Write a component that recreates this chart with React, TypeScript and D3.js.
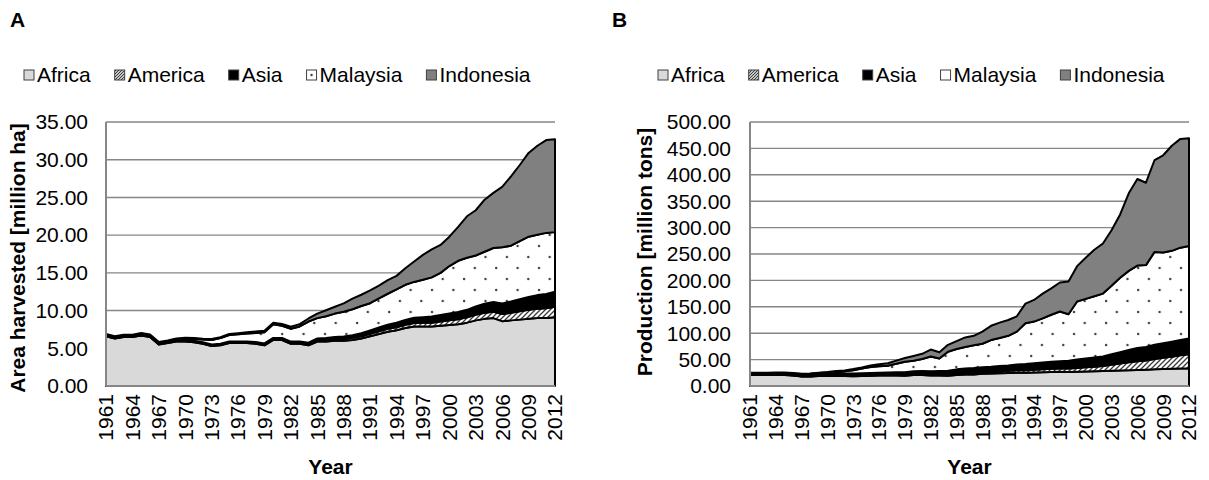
import React from 'react';
import * as d3 from 'd3';

// Years 1961–2012, one value per year for every region
const YEARS = d3.range(1961, 2013);
const TICK_YEARS = [1961, 1964, 1967, 1970, 1973, 1976, 1979, 1982, 1985, 1988, 1991, 1994, 1997, 2000, 2003, 2006, 2009, 2012];
const REGIONS = ['Africa', 'America', 'Asia', 'Malaysia', 'Indonesia'];

// Area harvested [million ha]
const areaAfrica = [6.6, 6.3, 6.5, 6.5, 6.7, 6.5, 5.5, 5.7, 5.9, 5.9, 5.8, 5.6, 5.3, 5.4, 5.7, 5.7, 5.7, 5.6, 5.4, 6.1, 6.1, 5.6, 5.6, 5.4, 5.9, 5.9, 6.0, 6.0, 6.1, 6.3, 6.6, 6.9, 7.2, 7.4, 7.7, 7.9, 7.9, 7.9, 8.0, 8.1, 8.2, 8.4, 8.7, 8.9, 9.0, 8.6, 8.7, 8.8, 8.9, 9.0, 9.0, 9.1];
const areaAmerica = [0.05, 0.05, 0.05, 0.05, 0.05, 0.05, 0.05, 0.05, 0.05, 0.08, 0.08, 0.08, 0.08, 0.08, 0.08, 0.08, 0.08, 0.12, 0.12, 0.12, 0.12, 0.12, 0.12, 0.15, 0.18, 0.2, 0.22, 0.25, 0.28, 0.3, 0.33, 0.36, 0.38, 0.4, 0.42, 0.45, 0.48, 0.5, 0.55, 0.6, 0.65, 0.7, 0.75, 0.8, 0.85, 0.95, 1.0, 1.1, 1.2, 1.25, 1.3, 1.4];
const areaAsia = [0.1, 0.1, 0.1, 0.1, 0.1, 0.1, 0.1, 0.1, 0.1, 0.12, 0.12, 0.12, 0.12, 0.12, 0.12, 0.12, 0.12, 0.12, 0.12, 0.15, 0.15, 0.17, 0.18, 0.2, 0.22, 0.25, 0.28, 0.3, 0.35, 0.4, 0.45, 0.5, 0.55, 0.6, 0.65, 0.7, 0.75, 0.8, 0.85, 0.9, 0.95, 1.0, 1.1, 1.2, 1.3, 1.4, 1.5, 1.6, 1.7, 1.8, 1.9, 2.0];
const areaMalaysia = [0.05, 0.05, 0.06, 0.06, 0.07, 0.08, 0.08, 0.1, 0.15, 0.2, 0.25, 0.35, 0.6, 0.75, 0.85, 0.95, 1.05, 1.2, 1.5, 1.8, 1.6, 1.7, 2.0, 2.8, 2.7, 2.9, 3.1, 3.3, 3.45, 3.6, 3.6, 3.85, 4.1, 4.4, 4.65, 4.75, 4.95, 5.2, 5.6, 6.3, 6.8, 6.9, 6.75, 6.9, 7.15, 7.45, 7.4, 7.7, 8.0, 8.0, 8.1, 7.9];
const areaIndonesia = [0.1, 0.1, 0.1, 0.1, 0.1, 0.1, 0.1, 0.1, 0.1, 0.1, 0.1, 0.1, 0.12, 0.13, 0.14, 0.15, 0.16, 0.18, 0.2, 0.22, 0.25, 0.28, 0.3, 0.4, 0.6, 0.8, 0.9, 1.1, 1.4, 1.5, 1.7, 1.7, 1.8, 1.8, 2.2, 2.7, 3.3, 3.7, 3.7, 3.9, 4.5, 5.5, 6.0, 6.9, 7.3, 8.0, 9.2, 10.1, 11.1, 11.8, 12.3, 12.3];

// Production [million tons]
const prodAfrica = [21, 21, 21, 21, 21, 20, 18, 18, 19, 19, 19, 19, 18.5, 19, 19.5, 20, 20, 20, 19.5, 21, 21, 20, 20, 19.5, 21, 22, 22, 23, 23.5, 24, 24.5, 25, 25, 25.5, 26, 26.5, 27, 26.5, 27, 27.5, 28, 28.5, 29, 29.5, 30, 30.5, 31, 31.5, 32, 32.5, 33, 33];
const prodAmerica = [0.5, 0.5, 0.5, 0.5, 0.5, 0.5, 0.5, 0.5, 0.5, 0.8, 0.8, 0.8, 0.8, 0.8, 0.8, 0.8, 0.8, 1.2, 1.2, 1.5, 1.7, 2.0, 2.2, 2.5, 2.8, 3.0, 3.2, 3.4, 3.6, 3.8, 4.2, 4.6, 5.0, 5.3, 5.6, 6.0, 6.3, 6.5, 7.2, 8.0, 8.6, 9.5, 11.0, 13.0, 15.0, 16.5, 17.5, 19.5, 21.5, 23.0, 25.0, 27.0];
const prodAsia = [2.5, 2.5, 2.5, 2.5, 2.5, 2.5, 3.0, 3.0, 3.0, 3.2, 3.7, 3.7, 4.2, 4.2, 4.2, 4.2, 4.7, 4.8, 5.3, 5.5, 5.8, 6.0, 6.3, 7.0, 7.7, 8.0, 8.8, 9.1, 9.4, 10.2, 10.3, 10.9, 11.5, 12.2, 12.9, 13.5, 13.7, 15.0, 15.8, 16.5, 17.4, 18.0, 20.0, 21.5, 23.0, 25.0, 25.5, 27.0, 27.5, 28.5, 29.0, 30.0];
const prodMalaysia = [0.2, 0.2, 0.3, 0.6, 0.8, 0.8, 1.0, 1.5, 2.0, 2.5, 3.5, 4.5, 6.5, 9.0, 11.5, 12.5, 13.0, 16.0, 20.0, 20.0, 22.5, 28.0, 23.5, 36.0, 38.5, 41.0, 43.0, 44.5, 50.5, 53.0, 56.0, 62.5, 77.5, 79.0, 83.5, 89.0, 94.0, 88.0, 110, 113, 116, 119, 130, 141, 150, 156, 155, 176, 172, 172, 175, 175];
const prodIndonesia = [0.8, 0.8, 0.7, 0.9, 0.7, 0.7, 0.5, 0.5, 0.5, 1.0, 1.5, 1.5, 2.0, 2.0, 3.0, 3.5, 4.5, 6.0, 7.0, 9.0, 10, 13, 12, 13, 15, 18, 18, 23, 27, 29, 30, 29, 37, 41, 47, 50, 55, 62, 67, 78, 88, 95, 105, 120, 147, 164, 156, 174, 184, 199, 206, 204];

const AREA_TICKS = [0, 5, 10, 15, 20, 25, 30, 35];
const PROD_TICKS = [0, 50, 100, 150, 200, 250, 300, 350, 400, 450, 500];

const FONT = '"Liberation Sans", Arial, Helvetica, sans-serif';
const FS = 21;
const GRID = '#868686';
const FILLS = ['#d9d9d9', 'url(#hatch)', '#000000', 'url(#dots)', '#808080'];

function textWidth(s: string, font: string): number {
  const c = document.createElement('canvas').getContext('2d');
  if (!c) return s.length * FS * 0.55;
  c.font = font;
  return c.measureText(s).width;
}

type PanelProps = {
  letter: string;
  letterX: number;
  legendX: number;
  legendDot: boolean;
  plot: { left: number; right: number; top: number; bottom: number };
  tickRight: number;
  titleX: number;
  titleY: number;
  title: string;
  yMax: number;
  ticks: number[];
  series: number[][];
};

function Panel(p: PanelProps) {
  const { plot } = p;
  const x = d3.scaleLinear().domain([YEARS[0], YEARS[YEARS.length - 1]]).range([plot.left, plot.right]);
  const y = d3.scaleLinear().domain([0, p.yMax]).range([plot.bottom, plot.top]);

  const rows = YEARS.map((yr, i) => {
    const r: Record<string, number> = { year: yr };
    REGIONS.forEach((name, k) => (r[name] = p.series[k][i]));
    return r;
  });
  const stacked = d3.stack<Record<string, number>>().keys(REGIONS)(rows);
  const area = d3
    .area<d3.SeriesPoint<Record<string, number>>>()
    .x((d) => x(d.data.year))
    .y0((d) => y(d[0]))
    .y1((d) => y(d[1]));

  // legend layout: swatch, label, gap
  const legendFont = `${FS}px ${FONT}`;
  let lx = p.legendX;
  const legendItems = REGIONS.map((name, k) => {
    const item = { name, k, x: lx };
    lx += 10 + 3 + textWidth(name, legendFont) + 24;
    return item;
  });

  const cx = (plot.left + plot.right) / 2;

  return (
    <g>
      <text x={p.letterX} y={27} fontSize={FS} fontWeight="bold" fontFamily={FONT}>
        {p.letter}
      </text>

      {legendItems.map((it) => (
        <g key={it.name}>
          <rect x={it.x} y={70} width={10} height={10} fill={it.k === 1 ? 'url(#hatchSmall)' : it.k === 3 ? '#fff' : FILLS[it.k]} stroke="#404040" strokeWidth={1} />
          {it.k === 3 && p.legendDot && <circle cx={it.x + 5} cy={75} r={1.2} fill="#404040" />}
          <text x={it.x + 13} y={82} fontSize={FS} fontFamily={FONT}>
            {it.name}
          </text>
        </g>
      ))}

      {p.ticks.map((t) => (
        <line key={'g' + t} x1={plot.left} x2={plot.right} y1={y(t)} y2={y(t)} stroke={GRID} strokeWidth={1.4} />
      ))}

      {stacked.map((s, k) => (
        <path key={s.key} d={area(s) || ''} fill={FILLS[k]} stroke="#000" strokeWidth={2} strokeLinejoin="round" />
      ))}

      <line x1={plot.left} x2={plot.left} y1={plot.top} y2={plot.bottom} stroke={GRID} strokeWidth={2} />
      <line x1={plot.left} x2={plot.right} y1={plot.bottom} y2={plot.bottom} stroke={GRID} strokeWidth={2} />

      {p.ticks.map((t) => (
        <text key={'t' + t} x={p.tickRight} y={y(t)} dy="0.35em" textAnchor="end" fontSize={FS} fontFamily={FONT}>
          {t.toFixed(2)}
        </text>
      ))}

      {TICK_YEARS.map((yr) => (
        <text
          key={'y' + yr}
          transform={`translate(${x(yr)},${plot.bottom + 8}) rotate(-90)`}
          dy="0.35em"
          textAnchor="end"
          fontSize={FS}
          fontFamily={FONT}
        >
          {yr}
        </text>
      ))}

      <text x={cx} y={474} textAnchor="middle" fontSize={FS} fontWeight="bold" fontFamily={FONT}>
        Year
      </text>

      <text
        transform={`translate(${p.titleX},${p.titleY}) rotate(-90)`}
        dy="0.35em"
        textAnchor="middle"
        fontSize={FS}
        fontWeight="bold"
        fontFamily={FONT}
      >
        {p.title}
      </text>
    </g>
  );
}

export default function App() {
  return (
    <svg width={1209} height={480} style={{ position: 'absolute', left: 0, top: 0, background: '#fff' }}>
      <defs>
        <pattern id="hatch" width={5} height={5} patternUnits="userSpaceOnUse">
          <rect width={5} height={5} fill="#fff" />
          <path d="M-1,1 L1,-1 M0,5 L5,0 M4,6 L6,4" stroke="#3a3a3a" strokeWidth={1.3} />
        </pattern>
        <pattern id="hatchSmall" width={3} height={3} patternUnits="userSpaceOnUse">
          <rect width={3} height={3} fill="#fff" />
          <path d="M-1,1 L1,-1 M0,3 L3,0 M2,4 L4,2" stroke="#333" strokeWidth={1.1} />
        </pattern>
        <pattern id="dots" width={21.4} height={22} patternUnits="userSpaceOnUse">
          <rect width={21.4} height={22} fill="#fff" />
          <circle cx={4} cy={4} r={1.2} fill="#404040" />
          <circle cx={14.7} cy={15} r={1.2} fill="#404040" />
        </pattern>
      </defs>
      <Panel
        letter="A"
        letterX={10}
        legendX={24}
        legendDot={true}
        plot={{ left: 106, right: 555, top: 122, bottom: 386 }}
        tickRight={88}
        titleX={18}
        titleY={258}
        title="Area harvested [million ha]"
        yMax={35}
        ticks={AREA_TICKS}
        series={[areaAfrica, areaAmerica, areaAsia, areaMalaysia, areaIndonesia]}
      />
      <Panel
        letter="B"
        letterX={612}
        legendX={658}
        legendDot={false}
        plot={{ left: 750, right: 1189, top: 122, bottom: 386 }}
        tickRight={731}
        titleX={645}
        titleY={252}
        title="Production [million tons]"
        yMax={500}
        ticks={PROD_TICKS}
        series={[prodAfrica, prodAmerica, prodAsia, prodMalaysia, prodIndonesia]}
      />
    </svg>
  );
}
